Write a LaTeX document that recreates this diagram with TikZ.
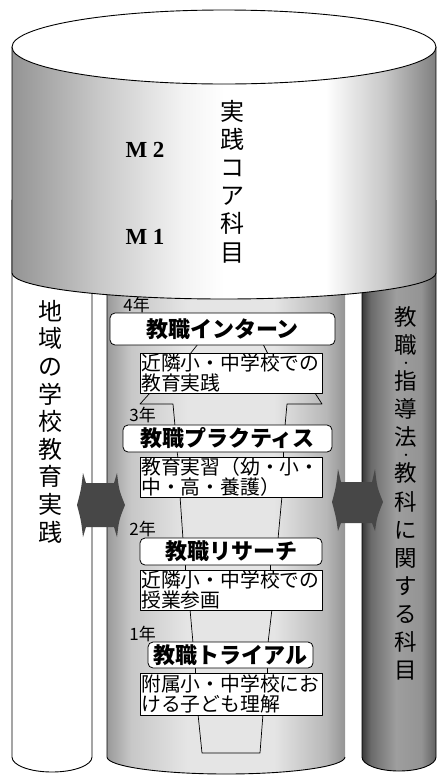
\documentclass[tikz,border=0pt]{standalone}
\usepackage{fontspec}
\setmainfont{Noto Sans CJK JP}
\newfontfamily\mfont{Liberation Serif}
\usetikzlibrary{calc}
\pgfdeclarehorizontalshading{cylsh}{100bp}{color(0bp)=(black!42); color(25bp)=(black!42); color(35bp)=(black!22); color(45bp)=(black!5); color(50bp)=(white); color(62bp)=(white); color(69bp)=(black!22); color(75bp)=(black!50); color(100bp)=(black!50)}
\pgfdeclarehorizontalshading{midsh}{100bp}{color(0bp)=(black!40); color(25bp)=(black!40); color(30bp)=(black!22); color(42bp)=(black!10); color(60bp)=(black!10); color(71bp)=(black!28); color(75bp)=(black!42); color(100bp)=(black!42)}
\pgfdeclarehorizontalshading{rightsh}{100bp}{color(0bp)=(black!78); color(25bp)=(black!78); color(31bp)=(black!58); color(48bp)=(black!38); color(65bp)=(black!42); color(75bp)=(black!62); color(100bp)=(black!62)}
\tikzset{
  outl/.style={draw=black, line width=0.9pt},
  funnel/.style={draw=black, line width=0.7pt},
  titlebox/.style={draw, line width=0.8pt, rounded corners=5pt, fill=white, inner sep=0pt,
    font=\fontsize{22}{24}\selectfont\bfseries},
  descbox/.style={draw, line width=0.7pt, fill=white, inner xsep=1pt, inner ysep=0pt,
    text width=179.5pt, minimum width=182pt, minimum height=40pt, align=left,
    font=\fontsize{19.8}{20}\selectfont},
  yearlbl/.style={font=\fontsize{17}{17}\selectfont, anchor=east, inner sep=0pt},
  vtext/.style={align=center, inner sep=0pt},
  mlabel/.style={font=\mfont\bfseries\fontsize{23}{23}\selectfont, inner sep=0pt},
  dblarrow/.style={fill=black!72, draw=none}
}
\newcommand\vdot{\raisebox{4.3pt}{\fontsize{11}{11}\selectfont ・}}
\begin{document}
\begin{tikzpicture}[x=1pt, y=-1pt, line join=round]
\useasboundingbox (0,0) rectangle (437,777);
% middle column
\path[shading=midsh] (107,200) -- (107,757) arc[start angle=180, end angle=0, x radius=119, y radius=17] -- (345,200) -- cycle;
\draw[outl] (107,200) -- (107,757) arc[start angle=180, end angle=0, x radius=119, y radius=17];
% right column
\path[shading=rightsh] (362,200) -- (362,757) arc[start angle=180, end angle=0, x radius=37, y radius=14] -- (436,200) -- cycle;
\draw[outl] (362,200) -- (362,757) arc[start angle=180, end angle=0, x radius=37, y radius=14] -- (436,200);
% left column
\draw[outl, fill=white] (12,200) -- (12,757) arc[start angle=180, end angle=0, x radius=40, y radius=15] -- (92,200) -- cycle;
% big cylinder
\path[shading=cylsh] (12,47) -- (12,273) arc[start angle=180, end angle=0, x radius=212, y radius=26] -- (436,47) -- cycle;
\draw[outl] (12,47) -- (12,273) arc[start angle=180, end angle=0, x radius=212, y radius=26] -- (436,47);
\draw[outl, fill=white] (224,47) ellipse[x radius=212, y radius=37];
% funnel lines
\draw[funnel] (198,344) -- (190,354);
\draw[funnel] (263,344) -- (268,354);
\draw[funnel] (150,393) -- (140,404) -- (173,404) -- (175,426);
\draw[funnel] (315,393) -- (322,404) -- (287,404) -- (285,426);
\draw[funnel] (177,451) -- (178,458);
\draw[funnel] (283,451) -- (283,458);
\draw[funnel] (180,496) -- (183,539);
\draw[funnel] (282,496) -- (278,539);
\draw[funnel] (185,564) -- (185,571);
\draw[funnel] (270,564) -- (270,571);
\draw[funnel] (190,609) -- (193,643);
\draw[funnel] (272,609) -- (268,643);
\draw[funnel] (195,667) -- (195,674);
\draw[funnel] (267,667) -- (267,674);
\draw[funnel] (198,714) -- (202,753) -- (260,753) -- (263,714);
% boxes
\node[titlebox, minimum width=225pt, minimum height=32pt] (t4) at (222.5,329) {教職インターン};
\node[descbox] (d4) at (231,373) {近隣小・中学校での\\教育実践};
\node[titlebox, minimum width=209pt, minimum height=27pt] (t3) at (227.5,438.5) {教職プラクティス};
\node[descbox] (d3) at (231,477) {教育実習（幼・小・\\中・高・養護）};
\node[titlebox, minimum width=182pt, minimum height=27pt] (t2) at (231,551.5) {教職リサーチ};
\node[descbox] (d2) at (231,590) {近隣小・中学校での\\授業参画};
\node[titlebox, minimum width=165pt, minimum height=26pt] (t1) at (230.5,655) {教職トライアル};
\node[descbox, minimum height=42pt] (d1) at (231,694) {附属小・中学校にお\\ける子ども理解};
% year labels
\node[yearlbl] (y4) at (150,305) {4年};
\node[yearlbl] (y3) at (156,415) {3年};
\node[yearlbl] (y2) at (156,529) {2年};
\node[yearlbl] (y1) at (156,634) {1年};
% cylinder texts
\node[vtext, font=\fontsize{24}{28.2}\selectfont] (core) at (232,181.5) {実\\践\\コ\\ア\\科\\目};
\node[mlabel] (m2) at (145,150) {M 2};
\node[mlabel] (m1) at (145,237) {M 1};
% side texts
\node[vtext, font=\fontsize{24}{27.6}\selectfont] (region) at (50,421.5) {地\\域\\の\\学\\校\\教\\育\\実\\践};
\node[vtext, font=\fontsize{22.5}{28.1}\selectfont] (subj) at (406,493.5) {教\\職\\[-10.1pt]\vdot\\[-10.1pt]指\\導\\法\\[-10.1pt]\vdot\\[-10.1pt]教\\科\\に\\関\\す\\る\\科\\目};
% double arrows
\path[dblarrow] (83,473) .. controls (81,490) .. (77,505) .. controls (81,520) .. (83,537) -- (86,527) -- (114,527) -- (117,537) .. controls (119,520) .. (125,505) .. controls (119,490) .. (117,473) -- (114,483) -- (86,483) -- cycle;
\path[dblarrow] (338,469) .. controls (336,487) .. (332,502) .. controls (336,517) .. (338,531) -- (341,523) -- (372,523) -- (375,531) .. controls (377,517) .. (383,502) .. controls (377,487) .. (375,469) -- (372,482) -- (341,482) -- cycle;
\end{tikzpicture}
\end{document}
